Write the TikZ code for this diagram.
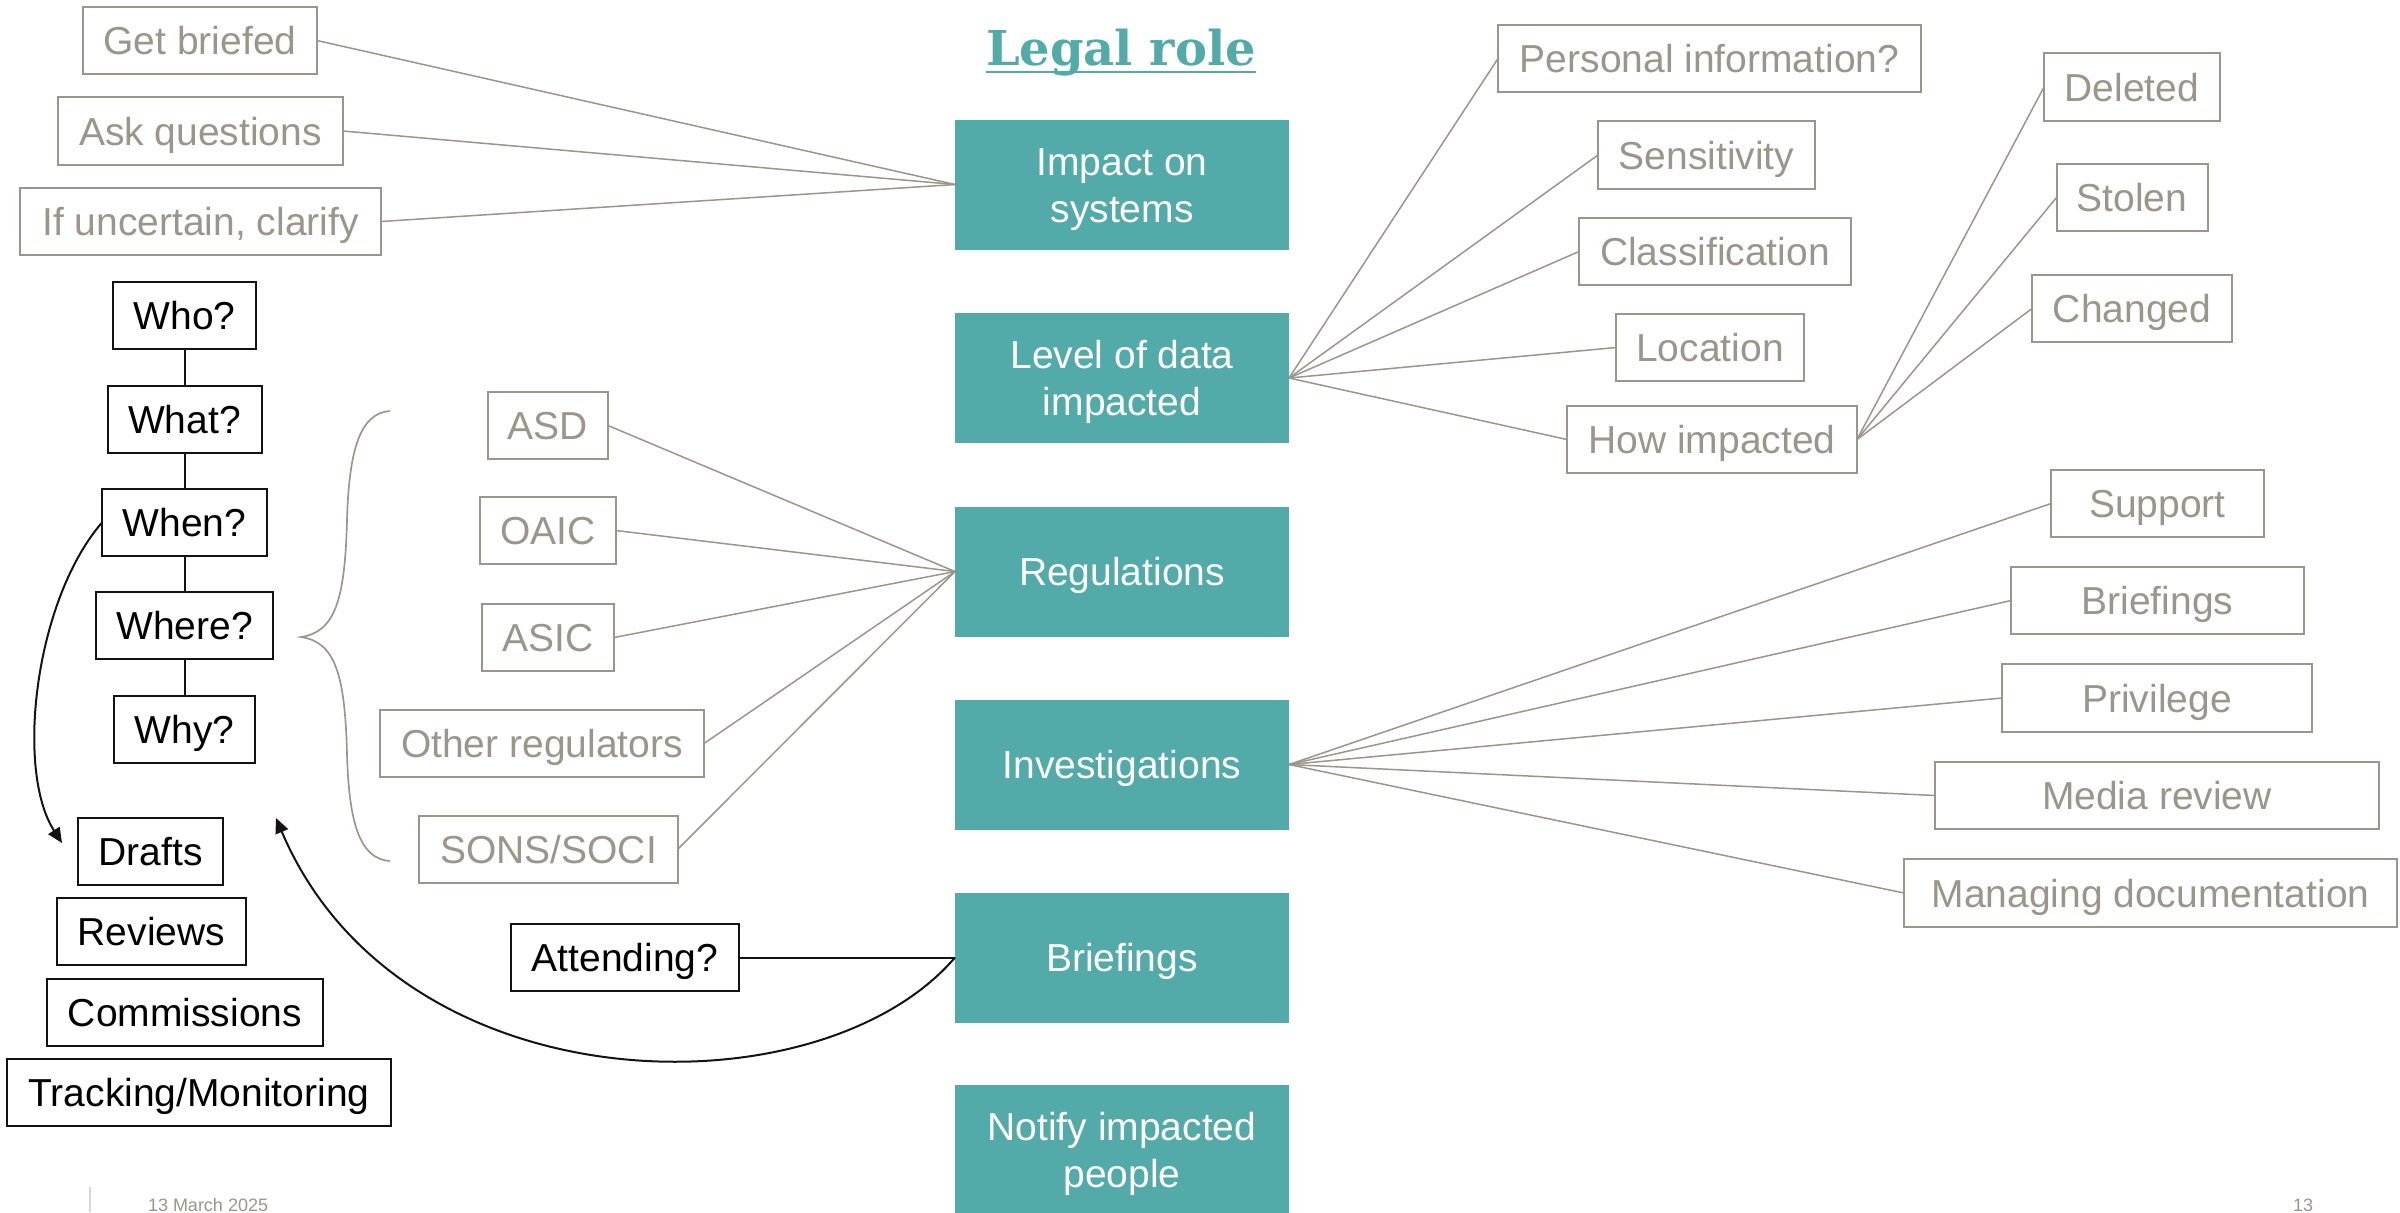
\documentclass[tikz,border=0pt]{standalone}
\usepackage{fontspec}
\setmainfont{Liberation Sans}
\newfontfamily\titlefont{DejaVu Serif}
\usetikzlibrary{arrows.meta}
\definecolor{teal1}{RGB}{82,171,168}
\definecolor{stone}{RGB}{155,149,138}
\definecolor{ink}{RGB}{20,18,18}
\definecolor{rulegray}{RGB}{215,215,215}
\tikzset{
  sz/.style n args={2}{minimum width=#1*0.3pt, minimum height=#2*0.3pt},
  capcentred/.style={text height=8.4pt, text depth=0pt},
  gbox/.style={draw=stone, text=stone, line width=0.6pt, capcentred},
  kbox/.style={draw=ink, text=black, line width=0.6pt, capcentred},
  tbox/.style={fill=teal1, text=white, align=center, sz={334}{130}, capcentred},
  tbox2/.style={tbox, text height=22.5pt, text depth=0pt},
  gline/.style={draw=stone, line width=0.45pt},
  kline/.style={draw=ink, line width=0.6pt},
  karrow/.style={kline, -{Triangle[length=4.5pt,width=4pt]}},
  smalltext/.style={text=stone, font=\fontsize{5.4}{6}\selectfont},
}
\begin{document}
\begin{tikzpicture}[x=0.3pt,y=-0.3pt,
  every node/.style={inner sep=0pt, outer sep=0pt, font=\fontsize{11.7}{14.1}\selectfont}]
\useasboundingbox (0,0) rectangle (2400,1212);

% title
\node[anchor=base, text=teal1, font=\titlefont\bfseries\fontsize{14.4}{16}\selectfont] (title) at (1121,65) {Legal role};
\draw[teal1, line width=0.7pt] ([yshift=-2.1pt]title.base west) -- ([yshift=-2.1pt]title.base east);

% central column
\node[tbox2] (impact) at (1122,184.5) {Impact on\\systems};
\node[tbox2] (level)  at (1122,378)   {Level of data\\impacted};
\node[tbox]  (regs)   at (1122,571.5) {Regulations};
\node[tbox]  (invest) at (1122,764.5) {Investigations};
\node[tbox]  (brief)  at (1122,957.5) {Briefings};
\node[tbox2] (notify) at (1122,1150)  {Notify impacted\\people};

% preparation
\node[gbox, sz={234}{67}] (getb) at (200,40.5)  {Get briefed};
\node[gbox, sz={285}{68}] (askq) at (200.5,131) {Ask questions};
\node[gbox, sz={361}{67}] (clar) at (200.5,221.5) {If uncertain, clarify};

% questions
\node[kbox, sz={143}{67}] (who)   at (184.5,315.5) {Who?};
\node[kbox, sz={154}{67}] (what)  at (184.5,419.5) {What?};
\node[kbox, sz={165}{67}] (when)  at (184.5,522.5) {When?};
\node[kbox, sz={177}{67}] (where) at (184.5,625.5) {Where?};
\node[kbox, sz={141}{67}] (why)   at (184.5,729.5) {Why?};

% outputs
\node[kbox, sz={145}{67}] (drafts)  at (150.5,851.5) {Drafts};
\node[kbox, sz={189}{67}] (reviews) at (151.5,931.5) {Reviews};
\node[kbox, sz={276}{67}] (comm)    at (185,1012.5)  {Commissions};
\node[kbox, sz={384}{67}] (track)   at (199,1092.5)  {Tracking/Monitoring};

% regulators
\node[gbox, sz={120}{67}] (asd)   at (548,425.5) {ASD};
\node[gbox, sz={136}{67}] (oaic)  at (548,530.5) {OAIC};
\node[gbox, sz={132}{67}] (asic)  at (548,637.5) {ASIC};
\node[gbox, sz={324}{67}] (other) at (542,743.5) {Other regulators};
\node[gbox, sz={259}{67}] (sons)  at (548.5,849) {SONS/SOCI};

\node[kbox, sz={228}{67}] (attend) at (625,957.5) {Attending?};

% data impacted
\node[gbox, sz={423}{67}] (pers)  at (1709.5,58.5) {Personal information?};
\node[gbox, sz={217}{68}] (sens)  at (1706.5,155)  {Sensitivity};
\node[gbox, sz={272}{67}] (class) at (1715,251.5)  {Classification};
\node[gbox, sz={188}{67}] (loc)   at (1710,347.5)  {Location};
\node[gbox, sz={290}{67}] (how)   at (1712,439.5)  {How impacted};
\node[gbox, sz={176}{68}] (del)   at (2132,87)     {Deleted};
\node[gbox, sz={151}{67}] (stol)  at (2132,197.5)  {Stolen};
\node[gbox, sz={200}{67}] (chg)   at (2132,308.5)  {Changed};

% investigations
\node[gbox, sz={213}{67}] (supp)   at (2157.5,503.5) {Support};
\node[gbox, sz={293}{67}] (ibrief) at (2157.5,600.5) {Briefings};
\node[gbox, sz={310}{68}] (priv)   at (2157,698)     {Privilege};
\node[gbox, sz={444}{67}] (media)  at (2157,795.5)   {Media review};
\node[gbox, sz={493}{68}] (mdoc)   at (2150.5,893)   {Managing documentation};

% connectors
\foreach \n in {getb,askq,clar} \draw[gline] (\n.east) -- (impact.west);
\foreach \n in {asd,oaic,asic,other,sons} \draw[gline] (\n.east) -- (regs.west);
\foreach \n in {pers,sens,class,loc,how} \draw[gline] (level.east) -- (\n.west);
\foreach \n in {del,stol,chg} \draw[gline] (how.east) -- (\n.west);
\foreach \n in {supp,ibrief,priv,media,mdoc} \draw[gline] (invest.east) -- (\n.west);
\draw[kline] (attend.east) -- (brief.west);
\draw[kline] (who.south) -- (what.north);
\draw[kline] (what.south) -- (when.north);
\draw[kline] (when.south) -- (where.north);
\draw[kline] (where.south) -- (why.north);

% brace grouping the regulators
\draw[gline, line width=0.5pt] (390,411) .. controls (360,413) and (349,450) .. (347,520)
  .. controls (345,600) and (335,632) .. (301,637)
  .. controls (335,642) and (345,674) .. (347,754)
  .. controls (349,824) and (360,859) .. (390,861);

% curved arrows
\coordinate (draftsin) at (62,843);
\coordinate (draftsback) at (276,818);
\draw[karrow] (when.west) .. controls (35,600) and (15,770) .. (draftsin);
\draw[karrow] (brief.west) .. controls (820,1115) and (400,1110) .. (draftsback);

% footer
\draw[rulegray, line width=0.5pt] (90,1187) -- (90,1212);
\node[anchor=base west, smalltext] (date) at (148,1211) {13 March 2025};
\node[anchor=base west, smalltext] (pageno) at (2293,1211) {13};
\end{tikzpicture}
\end{document}
